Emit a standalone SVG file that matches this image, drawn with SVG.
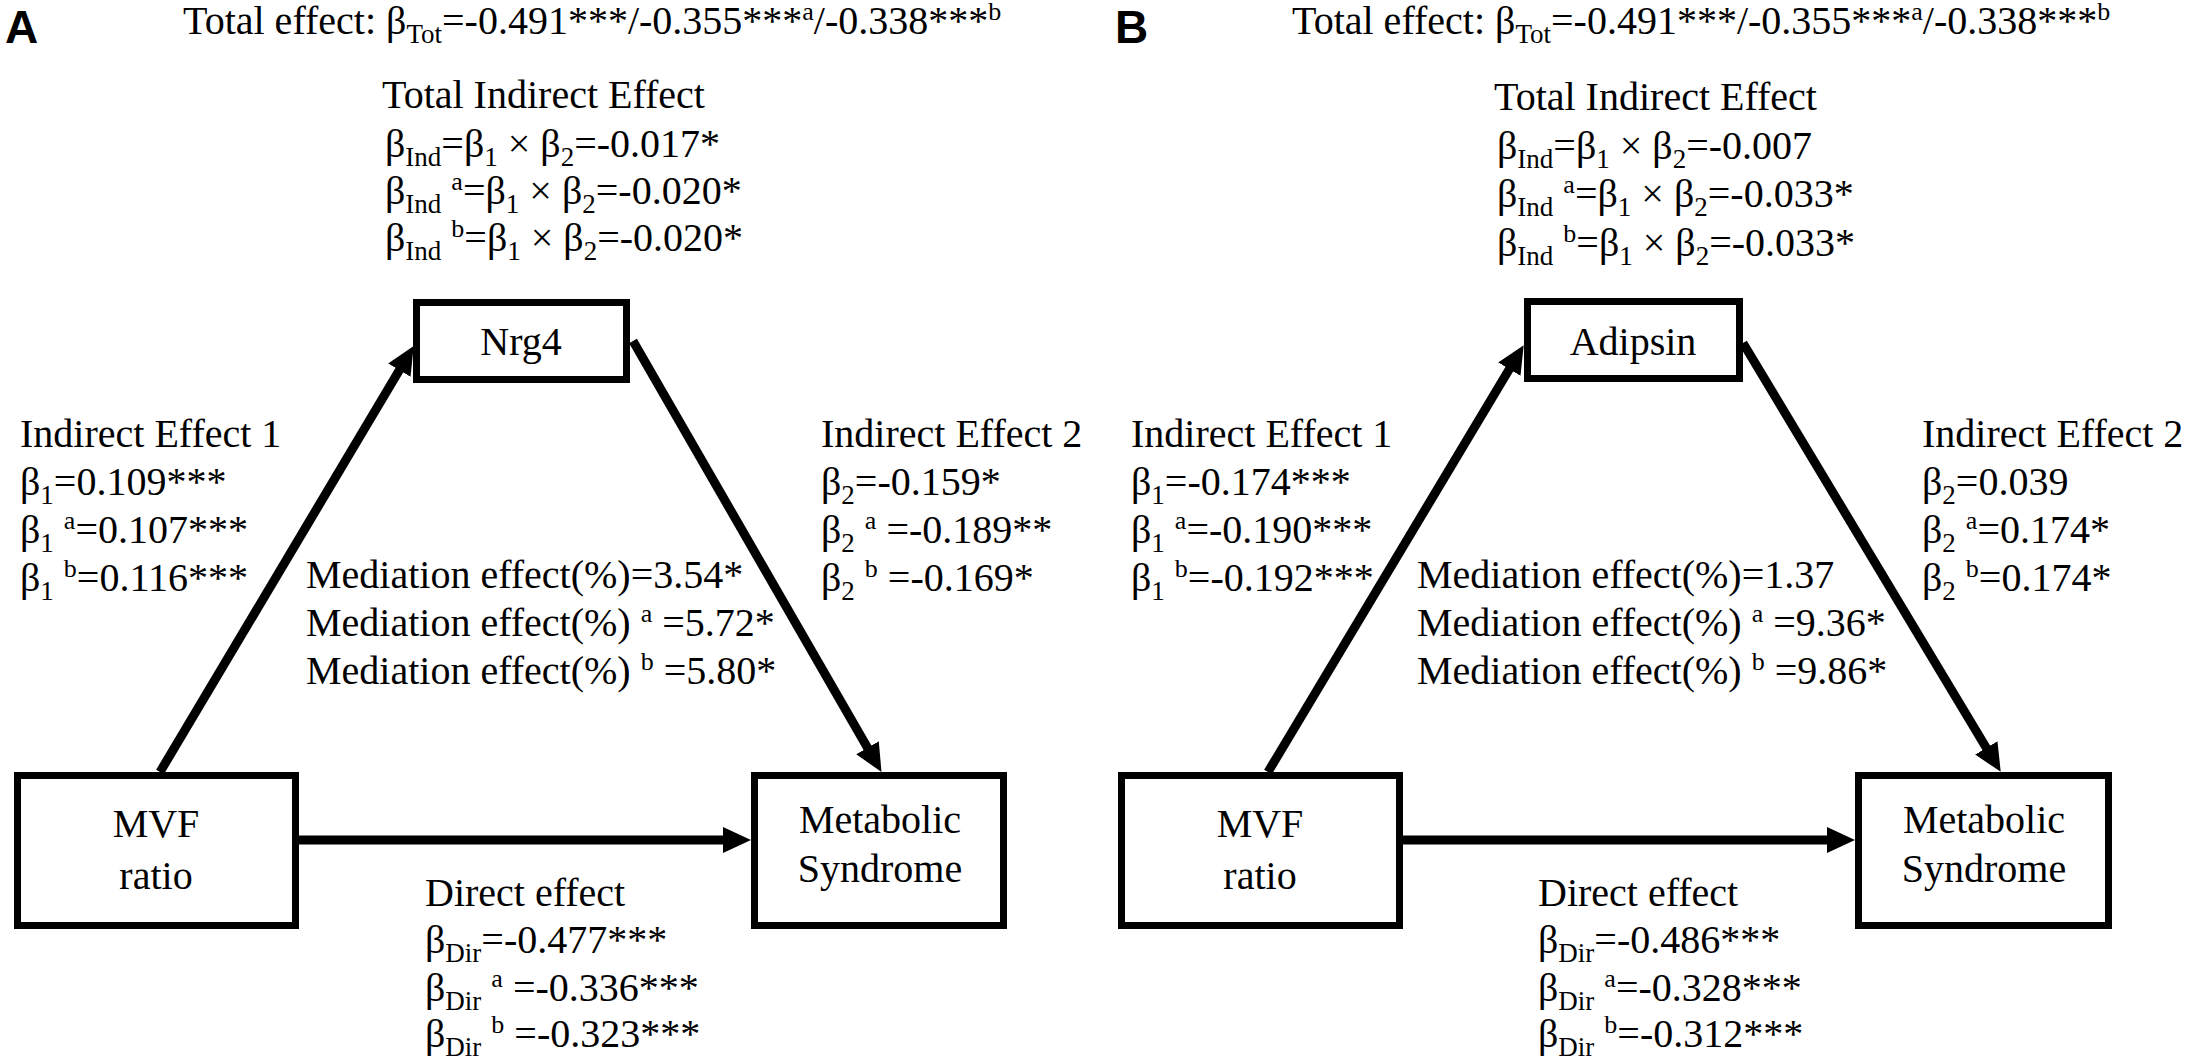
<svg xmlns="http://www.w3.org/2000/svg" width="2200" height="1063" viewBox="0 0 2200 1063">
<defs>
<style>
.t{font-family:"Liberation Serif","Times New Roman",serif;font-size:40px;fill:#000}
.c{text-anchor:middle}
.sb{font-size:27px;baseline-shift:-9px}
.sp{font-size:26px;baseline-shift:14px}
.lbl{font-family:"Liberation Sans",Arial,sans-serif;font-size:46px;font-weight:bold;fill:#000}
.box{fill:#fff;stroke:#000;stroke-width:7}
.ar{fill:none;stroke:#000;stroke-width:9;marker-end:url(#ah)}
</style>
<marker id="ah" viewBox="0 0 28 26" refX="13" refY="13" markerWidth="28" markerHeight="26" markerUnits="userSpaceOnUse" orient="auto">
<path d="M0,0 L28,13 L0,26 z" fill="#000"/>
</marker>
</defs>
<rect width="2200" height="1063" fill="#fff"/>

<g id="connectors">
<path class="ar" d="M160,772 L406,359"/>
<path class="ar" d="M633,341 L874,759"/>
<path class="ar" d="M299,840 L736,840"/>
<path class="ar" d="M1268,772 L1516,358"/>
<path class="ar" d="M1743,343 L1993,759"/>
<path class="ar" d="M1403,840 L1840,840"/>
</g>

<g id="nodeA-mvf">
<rect class="box" x="17.5" y="775.5" width="278" height="150"/>
<text class="t c" x="156" y="837">MVF</text>
<text class="t c" x="156" y="889">ratio</text>
</g>
<g id="nodeA-nrg4">
<rect class="box" x="416.5" y="302.5" width="210" height="77"/>
<text class="t c" x="521" y="355">Nrg4</text>
</g>
<g id="nodeA-ms">
<rect class="box" x="754.5" y="775.5" width="249" height="150"/>
<text class="t c" x="880" y="833">Metabolic</text>
<text class="t c" x="880" y="882">Syndrome</text>
</g>

<g id="nodeB-mvf">
<rect class="box" x="1121.5" y="775.5" width="278" height="150"/>
<text class="t c" x="1260" y="837">MVF</text>
<text class="t c" x="1260" y="889">ratio</text>
</g>
<g id="nodeB-adipsin">
<rect class="box" x="1527.5" y="301.5" width="212" height="77"/>
<text class="t c" x="1633" y="355">Adipsin</text>
</g>
<g id="nodeB-ms">
<rect class="box" x="1858.5" y="775.5" width="250" height="150"/>
<text class="t c" x="1984" y="833">Metabolic</text>
<text class="t c" x="1984" y="882">Syndrome</text>
</g>

<g id="labelsA">
<text class="lbl" x="5" y="43">A</text>
<text class="t" x="183" y="34">Total effect: β<tspan class="sb">Tot</tspan>=-0.491***/-0.355***<tspan class="sp">a</tspan>/-0.338***<tspan class="sp">b</tspan></text>
<text class="t" x="382" y="108">Total Indirect Effect</text>
<text class="t" x="385" y="157">β<tspan class="sb">Ind</tspan>=β<tspan class="sb">1</tspan> × β<tspan class="sb">2</tspan>=-0.017*</text>
<text class="t" x="385" y="204">β<tspan class="sb">Ind</tspan> <tspan class="sp">a</tspan>=β<tspan class="sb">1</tspan> × β<tspan class="sb">2</tspan>=-0.020*</text>
<text class="t" x="385" y="251">β<tspan class="sb">Ind</tspan> <tspan class="sp">b</tspan>=β<tspan class="sb">1</tspan> × β<tspan class="sb">2</tspan>=-0.020*</text>
<text class="t" x="20" y="447">Indirect Effect 1</text>
<text class="t" x="20" y="495">β<tspan class="sb">1</tspan>=0.109***</text>
<text class="t" x="20" y="543">β<tspan class="sb">1</tspan> <tspan class="sp">a</tspan>=0.107***</text>
<text class="t" x="20" y="591">β<tspan class="sb">1</tspan> <tspan class="sp">b</tspan>=0.116***</text>
<text class="t" x="821" y="447">Indirect Effect 2</text>
<text class="t" x="821" y="495">β<tspan class="sb">2</tspan>=-0.159*</text>
<text class="t" x="821" y="543">β<tspan class="sb">2</tspan> <tspan class="sp">a</tspan> =-0.189**</text>
<text class="t" x="821" y="591">β<tspan class="sb">2</tspan> <tspan class="sp">b</tspan> =-0.169*</text>
<text class="t" x="306" y="588">Mediation effect(%)=3.54*</text>
<text class="t" x="306" y="636">Mediation effect(%) <tspan class="sp">a</tspan> =5.72*</text>
<text class="t" x="306" y="684">Mediation effect(%) <tspan class="sp">b</tspan> =5.80*</text>
<text class="t" x="425" y="906">Direct effect</text>
<text class="t" x="425" y="953">β<tspan class="sb">Dir</tspan>=-0.477***</text>
<text class="t" x="425" y="1001">β<tspan class="sb">Dir</tspan> <tspan class="sp">a</tspan> =-0.336***</text>
<text class="t" x="425" y="1047">β<tspan class="sb">Dir</tspan> <tspan class="sp">b</tspan> =-0.323***</text>
</g>

<g id="labelsB">
<text class="lbl" x="1115" y="43">B</text>
<text class="t" x="1292" y="34">Total effect: β<tspan class="sb">Tot</tspan>=-0.491***/-0.355***<tspan class="sp">a</tspan>/-0.338***<tspan class="sp">b</tspan></text>
<text class="t" x="1494" y="110">Total Indirect Effect</text>
<text class="t" x="1497" y="159">β<tspan class="sb">Ind</tspan>=β<tspan class="sb">1</tspan> × β<tspan class="sb">2</tspan>=-0.007</text>
<text class="t" x="1497" y="207">β<tspan class="sb">Ind</tspan> <tspan class="sp">a</tspan>=β<tspan class="sb">1</tspan> × β<tspan class="sb">2</tspan>=-0.033*</text>
<text class="t" x="1497" y="256">β<tspan class="sb">Ind</tspan> <tspan class="sp">b</tspan>=β<tspan class="sb">1</tspan> × β<tspan class="sb">2</tspan>=-0.033*</text>
<text class="t" x="1131" y="447">Indirect Effect 1</text>
<text class="t" x="1131" y="495">β<tspan class="sb">1</tspan>=-0.174***</text>
<text class="t" x="1131" y="543">β<tspan class="sb">1</tspan> <tspan class="sp">a</tspan>=-0.190***</text>
<text class="t" x="1131" y="591">β<tspan class="sb">1</tspan> <tspan class="sp">b</tspan>=-0.192***</text>
<text class="t" x="1922" y="447">Indirect Effect 2</text>
<text class="t" x="1922" y="495">β<tspan class="sb">2</tspan>=0.039</text>
<text class="t" x="1922" y="543">β<tspan class="sb">2</tspan> <tspan class="sp">a</tspan>=0.174*</text>
<text class="t" x="1922" y="591">β<tspan class="sb">2</tspan> <tspan class="sp">b</tspan>=0.174*</text>
<text class="t" x="1417" y="588">Mediation effect(%)=1.37</text>
<text class="t" x="1417" y="636">Mediation effect(%) <tspan class="sp">a</tspan> =9.36*</text>
<text class="t" x="1417" y="684">Mediation effect(%) <tspan class="sp">b</tspan> =9.86*</text>
<text class="t" x="1538" y="906">Direct effect</text>
<text class="t" x="1538" y="953">β<tspan class="sb">Dir</tspan>=-0.486***</text>
<text class="t" x="1538" y="1001">β<tspan class="sb">Dir</tspan> <tspan class="sp">a</tspan>=-0.328***</text>
<text class="t" x="1538" y="1047">β<tspan class="sb">Dir</tspan> <tspan class="sp">b</tspan>=-0.312***</text>
</g>
</svg>
